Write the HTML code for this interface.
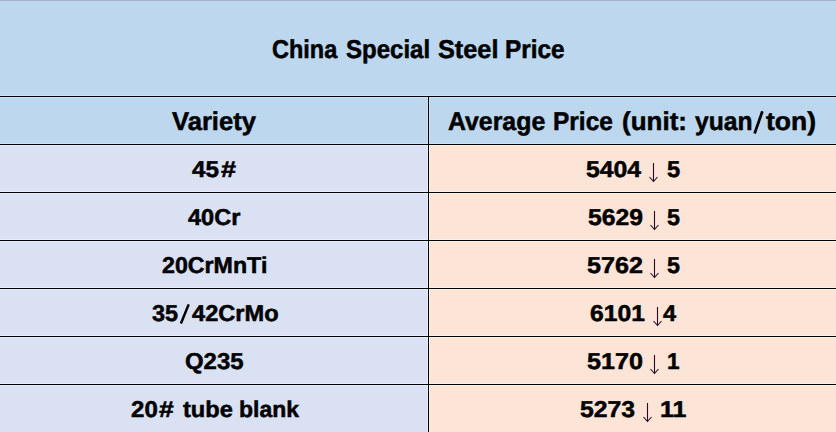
<!DOCTYPE html>
<html><head><meta charset="utf-8"><style>
html,body{margin:0;padding:0;}
body{width:836px;height:432px;position:relative;overflow:hidden;background:#D9E1F2;}
.bg{position:absolute;}
.t{position:absolute;white-space:pre;font-family:"Liberation Sans", sans-serif;font-weight:bold;line-height:30px;color:#000;transform-origin:0 0;text-rendering:geometricPrecision;-webkit-text-stroke:0.5px #000;}
svg{position:absolute;left:0;top:0;}
</style></head><body>
<div class="bg" style="left:0;top:0;width:836px;height:144px;background:#BDD7EE"></div>
<div class="bg" style="left:0;top:144px;width:428px;height:288px;background:#D9E1F2"></div>
<div class="bg" style="left:429px;top:144px;width:407px;height:288px;background:#FCE4D6"></div>
<div class="bg" style="left:0;top:0;width:836px;height:1px;background:#A8B0C6"></div>
<svg width="836" height="432" viewBox="0 0 836 432">
<g fill="none" stroke-width="1" shape-rendering="crispEdges">
<path stroke="#CBE3FA" d="M0 95.5H836M0 97.5H427M430 97.5H836M427.5 97V143M429.5 97V143M0 143.5H427M430 143.5H836"/>
<path stroke="#E7EDFF" d="M0 145.5H427M0 191.5H427M0 193.5H427M0 239.5H427M0 241.5H427M0 287.5H427M0 289.5H427M0 335.5H427M0 337.5H427M0 383.5H427M0 385.5H427M427.5 145V432"/>
<path stroke="#FFF0E6" d="M430 145.5H836M430 191.5H836M430 193.5H836M430 239.5H836M430 241.5H836M430 287.5H836M430 289.5H836M430 335.5H836M430 337.5H836M430 383.5H836M430 385.5H836M429.5 145V432"/>
<path stroke="#000" d="M0 96.5H836M0 144.5H836M0 192.5H836M0 240.5H836M0 288.5H836M0 336.5H836M0 384.5H836M428.5 96V432"/>
</g>
<g stroke="#000" fill="none">
<path stroke-width="2.5" d="M180.9 323.5L188.7 304.4"/>
<path stroke-width="2.7" d="M754.6 133.5L762.4 111.3"/>
</g>
<g fill="none" stroke="#2a0a2a" stroke-width="1.1">
<path d="M653.5 163 V181.5 M649.5 177 L653.5 181.5 L657.5 177"/><path d="M654.5 211 V229.5 M650.5 225 L654.5 229.5 L658.5 225"/><path d="M654.5 259 V277.5 M650.5 273 L654.5 277.5 L658.5 273"/><path d="M657.5 307 V325.5 M653.5 321 L657.5 325.5 L661.5 321"/><path d="M654.5 355 V373.5 M650.5 369 L654.5 373.5 L658.5 369"/><path d="M647.5 403 V421.5 M643.5 417 L647.5 421.5 L651.5 417"/>
</g>
</svg>
<div class="t" style="left:271.88px;top:35px;font-size:25.8px;transform:scaleX(0.9100)">China</div><div class="t" style="left:346.02px;top:35px;font-size:25.8px;transform:scaleX(0.9312)">Special</div><div class="t" style="left:437.68px;top:35px;font-size:25.8px;transform:scaleX(0.9806)">Steel</div><div class="t" style="left:505.16px;top:35px;font-size:25.8px;transform:scaleX(0.9449)">Price</div><div class="t" style="left:172.03px;top:107px;font-size:25.8px;transform:scaleX(0.9923)">Variety</div><div class="t" style="left:448.38px;top:107px;font-size:25.8px;transform:scaleX(0.9639)">Average</div><div class="t" style="left:553.06px;top:107px;font-size:25.8px;transform:scaleX(0.9481)">Price</div><div class="t" style="left:621.61px;top:107px;font-size:25.8px;transform:scaleX(1.0081)">(unit:</div><div class="t" style="left:694.59px;top:107px;font-size:25.8px;transform:scaleX(0.9557)">yuan</div><div class="t" style="left:766.40px;top:107px;font-size:25.8px;transform:scaleX(1.0267)">ton)</div><div class="t" style="left:192.07px;top:154px;font-size:22.9px;transform:scaleX(1.0594)">45</div><div class="t" style="left:221.18px;top:154px;font-size:22.9px;transform:scaleX(1.1834)">&#35;</div><div class="t" style="left:188.17px;top:202px;font-size:22.9px;transform:scaleX(1.0281)">40Cr</div><div class="t" style="left:161.76px;top:250px;font-size:22.9px;transform:scaleX(1.0139)">20CrMnTi</div><div class="t" style="left:151.81px;top:298px;font-size:22.9px;transform:scaleX(1.0224)">35</div><div class="t" style="left:192.17px;top:298px;font-size:22.9px;transform:scaleX(1.0321)">42CrMo</div><div class="t" style="left:184.67px;top:346px;font-size:22.9px;transform:scaleX(1.0447)">Q235</div><div class="t" style="left:130.84px;top:394px;font-size:22.9px;transform:scaleX(1.0508)">20</div><div class="t" style="left:159.28px;top:394px;font-size:22.9px;transform:scaleX(1.1605)">&#35;</div><div class="t" style="left:182.52px;top:394px;font-size:22.9px;transform:scaleX(1.0320)">tube</div><div class="t" style="left:239.13px;top:394px;font-size:22.9px;transform:scaleX(1.0032)">blank</div><div class="t" style="left:586.49px;top:154px;font-size:22.9px;transform:scaleX(1.0805)">5404</div><div class="t" style="left:666.52px;top:154px;font-size:22.9px;transform:scaleX(1.0348)">5</div><div class="t" style="left:587.59px;top:202px;font-size:22.9px;transform:scaleX(1.0799)">5629</div><div class="t" style="left:666.53px;top:202px;font-size:22.9px;transform:scaleX(1.0180)">5</div><div class="t" style="left:587.38px;top:250px;font-size:22.9px;transform:scaleX(1.0984)">5762</div><div class="t" style="left:666.53px;top:250px;font-size:22.9px;transform:scaleX(1.0180)">5</div><div class="t" style="left:590.25px;top:298px;font-size:22.9px;transform:scaleX(1.0770)">6101</div><div class="t" style="left:663.17px;top:298px;font-size:22.9px;transform:scaleX(1.0306)">4</div><div class="t" style="left:587.38px;top:346px;font-size:22.9px;transform:scaleX(1.0994)">5170</div><div class="t" style="left:666.86px;top:346px;font-size:22.9px;transform:scaleX(0.9874)">1</div><div class="t" style="left:580.39px;top:394px;font-size:22.9px;transform:scaleX(1.0815)">5273</div><div class="t" style="left:659.76px;top:394px;font-size:22.9px;transform:scaleX(1.0922)">11</div>
</body></html>
